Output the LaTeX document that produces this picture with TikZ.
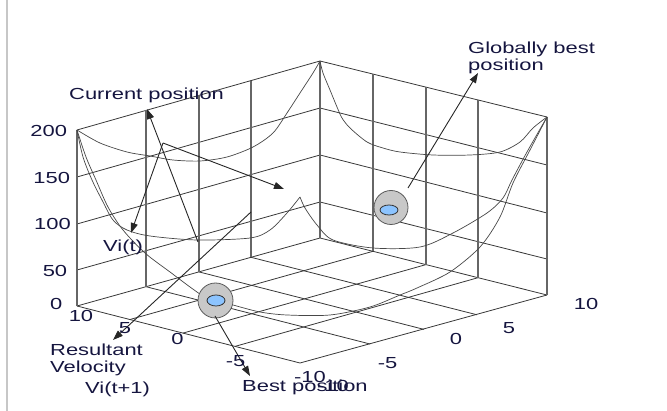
\documentclass[tikz,border=0pt]{standalone}
\usepackage{fontspec}
\setmainfont{Liberation Sans}[FakeStretch=1.37]
\usetikzlibrary{arrows.meta,shapes.geometric}
\definecolor{txt}{HTML}{15153F}
\definecolor{ballout}{HTML}{C8C8C8}
\definecolor{ballin}{HTML}{8CC4FF}
\begin{document}
\begin{tikzpicture}[x=1pt,y=-1pt,
  grid/.style={draw=black!78, line width=0.8pt},
  vgrid/.style={draw=black!60, line width=1.3pt},
  curve/.style={draw=black!72, line width=0.7pt},
  arr/.style={draw=black!85, line width=0.9pt, -{Triangle[length=10pt,width=7pt]}},
  lbl/.style={text=txt, font=\fontsize{16}{16}\selectfont, inner sep=0pt},
  outer/.style={draw=black!65, fill=ballout, line width=0.8pt},
  inner/.style={draw=black!80, fill=ballin, line width=0.8pt}]
\useasboundingbox (0,0) rectangle (667,411);
\draw[draw=black!22, line width=1.2pt] (7,0) -- (7,411);
% box corners
\coordinate (L) at (77,306); \coordinate (F) at (300,363);
\coordinate (R) at (547,295); \coordinate (B) at (320,238);
\coordinate (LT) at (77,130); \coordinate (BT) at (320,61); \coordinate (RT) at (547,117);
% left wall horizontals
\draw[grid] (LT) -- (BT) (77,177) -- (320,108) (77,224) -- (320,155) (77,270) -- (320,202) (L) -- (B);
% right wall horizontals
\draw[grid] (BT) -- (RT) (320,108) -- (547,165) (320,155) -- (547,213) (320,202) -- (547,259) (B) -- (R);
% floor front edges
\draw[grid] (L) -- (F) -- (R);
% floor grid
\draw[grid] (130,319.5) -- (373,251.3) (183,333.1) -- (426,264.6) (235,346.4) -- (478,277.7);
\draw[grid] (146,286.7) -- (370,344) (199,271.9) -- (424,329.4) (251,257.3) -- (477,314.8);
% verticals
\draw[vgrid] (LT) -- (L) (BT) -- (B) (RT) -- (R);
\draw[vgrid] (146,110.4) -- (146,286.7) (199,95.4) -- (199,271.9) (251,80.6) -- (251,257.3);
\draw[vgrid] (373,74.1) -- (373,251.3) (426,87.1) -- (426,264.6) (478,100) -- (478,277.7);
% surface curves
\draw[curve] plot[smooth, tension=0.5] coordinates {(77,130) (100,143) (127,152) (150,156) (173,160) (200,161) (227,157) (253,147) (273,133) (287,113) (300,93) (313,73) (320,61)};
\draw[curve] plot[smooth, tension=0.5] coordinates {(320,61) (323,73) (330,90) (337,107) (342,118) (350,128) (367,142) (383,148) (400,152) (433,155) (470,155) (500,152) (520,142) (533,128) (547,117)};
\draw[curve] plot[smooth, tension=0.5] coordinates {(77,130) (86,157) (96,180) (108,207) (123,230) (145,253) (170,272) (200,294) (215,300) (233,305) (260,312) (287,315) (330,315) (370,307) (400,295) (417,288) (450,272) (480,247) (500,217) (513,183) (530,150) (547,117)};
\draw[curve] plot[smooth, tension=0.5] coordinates {(77,130) (83,157) (92,180) (102,200) (113,220) (127,230) (150,236) (197,240) (250,238) (270,230) (287,213) (300,197)};
\draw[curve] plot[smooth, tension=0.5] coordinates {(300,197) (305,208) (317,225) (333,240) (373,248) (420,247) (453,233) (487,213) (503,198) (512,180) (527,152) (547,117)};
% arrows
\coordinate (V) at (163,143);
\coordinate (cpt) at (147,109); \coordinate (cpb) at (198,242);
\coordinate (vit) at (131,233); \coordinate (vr) at (284,189);
\coordinate (rs) at (251,212); \coordinate (re) at (113,340);
\draw[arr] (cpb) -- (cpt);
\draw[arr] (V) -- (vit);
\draw[arr] (V) -- (vr);
\draw[arr] (rs) -- (re);
% particles
\node[outer, shape=circle, minimum width=35pt, inner sep=0pt] (p1) at (215.5,300.5) {};
\node[inner, shape=ellipse, minimum width=18pt, minimum height=11pt, inner sep=0pt] (p1i) at (216,300.5) {};
\node[outer, shape=circle, minimum width=34pt, inner sep=0pt] (p2) at (391,207.5) {};
\node[inner, shape=ellipse, minimum width=18pt, minimum height=10pt, inner sep=0pt] (p2i) at (389,210) {};
\coordinate (gb) at (478,73); \coordinate (bp) at (250,376);
\draw[arr] (408,188) -- (gb);
\draw[arr] (215,316) -- (bp);
% labels
\node[lbl, anchor=base west] (tcur) at (69,100) {Current position};
\node[lbl, anchor=base west] (tglob) at (468,54) {Globally best};
\node[lbl, anchor=base west] (tglob2) at (468,70.7) {position};
\node[lbl, anchor=base west] (tvit) at (103,251.7) {Vi(t)};
\node[lbl, anchor=base west] (tres) at (50,355.7) {Resultant};
\node[lbl, anchor=base west] (tvel) at (50,372.3) {Velocity};
\node[lbl, anchor=base west] (tvit1) at (85,393.3) {Vi(t+1)};
\node[lbl, anchor=base west] (tbest) at (242,392) {Best position};
% z axis
\node[lbl, anchor=base] (z200) at (48.7,136.7) {200};
\node[lbl, anchor=base] (z150) at (51.7,183.3) {150};
\node[lbl, anchor=base] (z100) at (52.5,230) {100};
\node[lbl, anchor=base] (z50) at (55,276.7) {50};
\node[lbl, anchor=base] (z0) at (56.2,310) {0};
% left-front axis
\node[lbl, anchor=base] (x10) at (81,321.7) {10};
\node[lbl, anchor=base] (x5) at (125,333.3) {5};
\node[lbl, anchor=base] (x0) at (177.5,344.3) {0};
\node[lbl, anchor=base] (xm5) at (235.5,366.7) {-5};
\node[lbl, anchor=base] (xm10) at (310,383) {-10};
% right-front axis
\node[lbl, anchor=base] (ym10) at (333,392) {-10};
\node[lbl, anchor=base] (ym5) at (387.5,368.3) {-5};
\node[lbl, anchor=base] (y0) at (456,345) {0};
\node[lbl, anchor=base] (y5) at (509,333.3) {5};
\node[lbl, anchor=base] (y10) at (586,310) {10};
\end{tikzpicture}
\end{document}
